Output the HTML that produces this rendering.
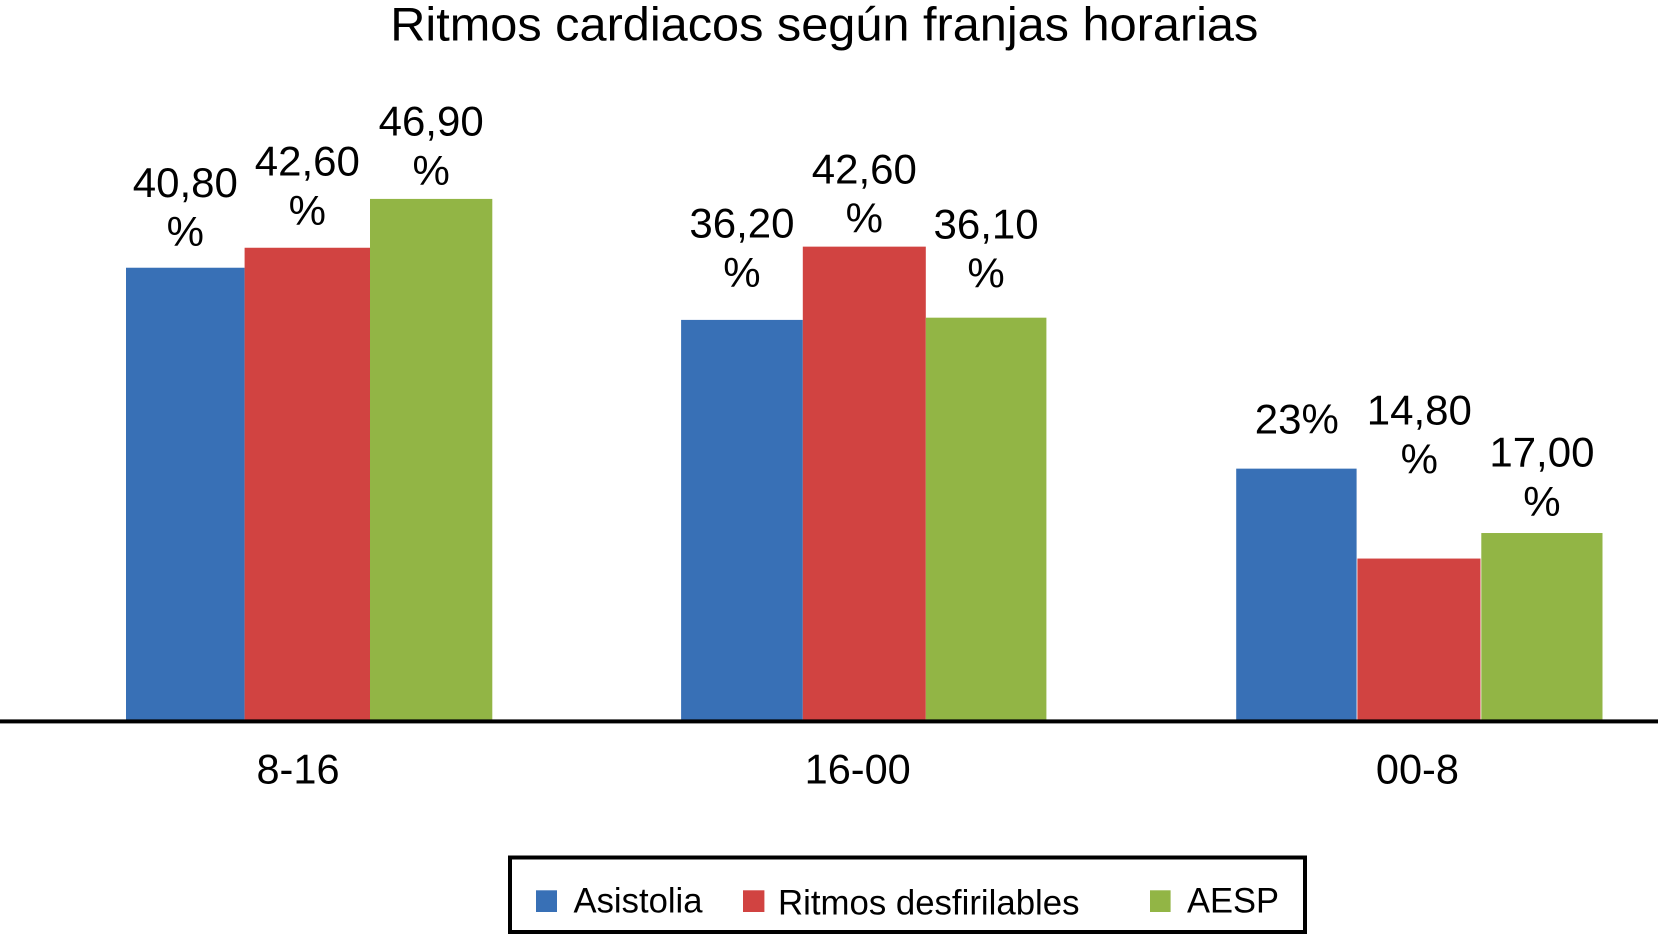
<!DOCTYPE html>
<html lang="es">
<head>
<meta charset="utf-8">
<title>Ritmos cardiacos según franjas horarias</title>
<style>
html,body{margin:0;padding:0;background:#fff;width:1658px;height:934px;overflow:hidden}
svg{display:block}
text{font-family:"Liberation Sans",Arial,sans-serif;fill:#000}
</style>
</head>
<body>
<svg id="chart" xmlns="http://www.w3.org/2000/svg" width="1658" height="934" viewBox="0 0 1658 934">
  <rect x="0" y="0" width="1658" height="934" fill="#ffffff"/>
  <text x="824.3" y="40.5" font-size="47.5" text-anchor="middle" textLength="868" lengthAdjust="spacingAndGlyphs">Ritmos cardiacos según franjas horarias</text>
  <g id="bars"></g>
  <g id="labels"></g>
  <rect x="0" y="719.4" width="1658" height="4" fill="#000000"/>
  <g id="ticks"></g>
  <g>
    <rect x="510" y="857.5" width="795" height="74.5" fill="#ffffff" stroke="#000000" stroke-width="4"/>
    <rect x="536" y="890.3" width="21" height="21.7" fill="#3870b6"/>
    <text x="573.5" y="912.7" font-size="35.5" textLength="129" lengthAdjust="spacingAndGlyphs">Asistolia</text>
    <rect x="743" y="890.3" width="21.4" height="21.7" fill="#d14341"/>
    <text x="778" y="914.7" font-size="35.5" textLength="301.5" lengthAdjust="spacingAndGlyphs">Ritmos desfirilables</text>
    <rect x="1150" y="890.3" width="20.6" height="21.7" fill="#92b545"/>
    <text x="1187" y="912.7" font-size="35.5" textLength="92" lengthAdjust="spacingAndGlyphs">AESP</text>
  </g>
</svg>
<script>
const categories = ["8-16", "16-00", "00-8"];
const seriesNames = ["asistolia", "ritmos-desfirilables", "aesp"];
const asistolia = [40.7, 36.0, 22.6];
const ritmosDesfirilables = [42.5, 42.6, 14.5];
const aesp = [46.9, 36.2, 16.8];
const asistoliaLabels = ["40,80 %", "36,20 %", "23%"];
const ritmosLabels = ["42,60 %", "42,60 %", "14,80 %"];
const aespLabels = ["46,90 %", "36,10 %", "17,00 %"];

const seriesValues = [asistolia, ritmosDesfirilables, aesp];
const seriesLabels = [asistoliaLabels, ritmosLabels, aespLabels];
const seriesColors = ["#3870b6", "#d14341", "#92b545"];

// layout
const baselineY = 719.5;
const unitPx = 11.1;
const yScale = function (v) { return baselineY - v * unitPx; };
const groupX = function (i) { return 126 + i * 555.1; };
const barEdge = function (c, e) {
  const edges = { "0-0": 0, "0-1": 118.6, "0-2": 244, "0-3": 366.3, "1-0": 0, "1-1": 121.7, "1-2": 244.7, "1-3": 365.3, "2-0": 0, "2-1": 121.2, "2-2": 245.1, "2-3": 366.3 };
  return edges[c + "-" + e];
};
const barGap = function (c, s) { return c === 2 && s < 2 ? 0.8 : 0; };
const tickX = function (i) { return 298 + i * 559.7; };
const labelGap = function (c, s) {
  const gaps = { "0-0": 21.5, "0-1": 23, "0-2": 14, "1-0": 33, "1-1": 14, "1-2": 30, "2-0": 35, "2-1": 85, "2-2": 17 };
  return gaps[c + "-" + s];
};

const NS = "http://www.w3.org/2000/svg";
const barsG = document.getElementById("bars");
const labelsG = document.getElementById("labels");
const ticksG = document.getElementById("ticks");

categories.forEach(function (cat, c) {
  seriesValues.forEach(function (vals, s) {
    const top = yScale(vals[c]);
    const x = groupX(c) + barEdge(c, s);
    const w = barEdge(c, s + 1) - barEdge(c, s);
    const bar = document.createElementNS(NS, "rect");
    
    
    bar.setAttribute("x", x);
    bar.setAttribute("y", top);
    bar.setAttribute("width", w - barGap(c, s));
    bar.setAttribute("height", baselineY - top + 1);
    bar.setAttribute("fill", seriesColors[s]);
    barsG.appendChild(bar);

    const lines = seriesLabels[s][c].split(" ");
    const lastBaseline = top - labelGap(c, s);
    const cx = x + w / 2;
    const label = document.createElementNS(NS, "text");
    
    
    label.setAttribute("font-size", "42");
    label.setAttribute("text-anchor", "middle");
    lines.forEach(function (line, k) {
      const span = document.createElementNS(NS, "tspan");
      span.setAttribute("x", cx);
      span.setAttribute("y", lastBaseline - (lines.length - 1 - k) * 49.3);
      span.textContent = line;
      label.appendChild(span);
    });
    labelsG.appendChild(label);
  });

  const tick = document.createElementNS(NS, "text");
  
  
  tick.setAttribute("x", tickX(c));
  tick.setAttribute("y", 783.7);
  tick.setAttribute("font-size", "41.5");
  tick.setAttribute("text-anchor", "middle");
  tick.textContent = cat;
  ticksG.appendChild(tick);
});
</script>
</body>
</html>
